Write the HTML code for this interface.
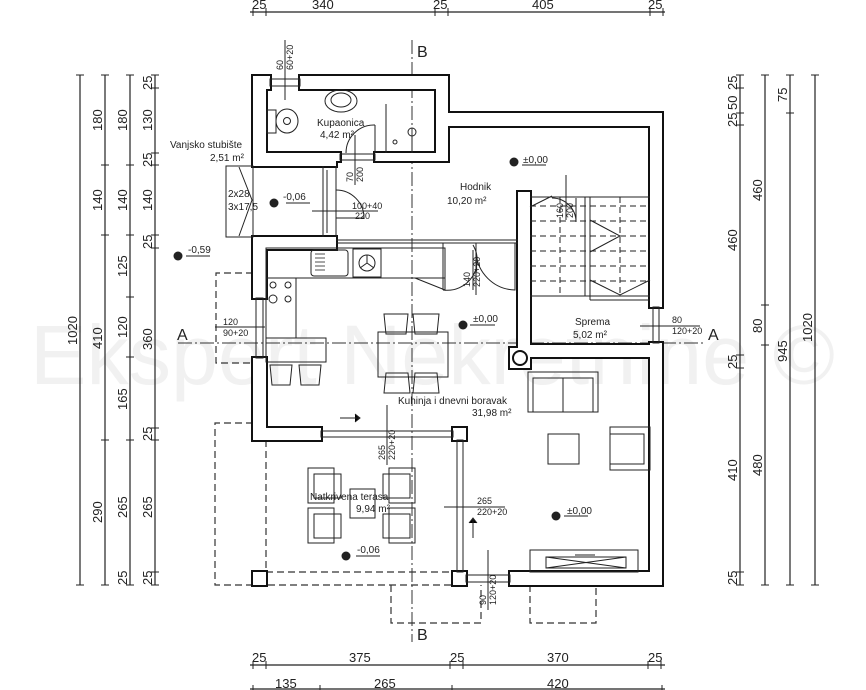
<!DOCTYPE html>
<html><head><meta charset="utf-8"><style>
html,body{margin:0;padding:0;background:#fff;}
svg{display:block;}
text{font-family:"Liberation Sans",sans-serif;fill:#222;}
</style></head><body>
<svg width="866" height="690" viewBox="0 0 866 690" xmlns="http://www.w3.org/2000/svg">
<text x="30" y="384" font-size="84" textLength="805" lengthAdjust="spacingAndGlyphs" style="fill:#f1f1f1">Ekspert Nekretnine ©</text>

<g stroke="#333" stroke-width="1" stroke-dasharray="14,3,2,3" fill="none">
<line x1="412" y1="40" x2="412" y2="642"/>
<line x1="178" y1="343" x2="705" y2="343"/>
</g>
<text x="417" y="57" font-size="16">B</text>
<text x="417" y="640" font-size="16">B</text>
<text x="177" y="340" font-size="16">A</text>
<text x="708" y="340" font-size="16">A</text>

<g stroke="#333" stroke-width="1.2" stroke-dasharray="7,4" fill="none">
<polyline points="253,423 215,423 215,585 453,585"/>
<polyline points="266,440 266,572 453,572"/>
<polyline points="391,585 391,623 481,623 481,585"/>
<polyline points="530,585 530,623 596,623 596,585"/>
<polyline points="253,273 216,273 216,363 253,363"/>
</g>

<g stroke="#111" stroke-width="4" fill="#111">
<rect x="253" y="76" width="17" height="13"/>
<rect x="300" y="76" width="148" height="13"/>
<rect x="253" y="76" width="13" height="90"/>
<rect x="436" y="76" width="12" height="85"/>
<rect x="436" y="113" width="226" height="13"/>
<rect x="650" y="113" width="12" height="194"/>
<rect x="650" y="343" width="12" height="242"/>
<rect x="375" y="153" width="61" height="8"/>
<rect x="336" y="153" width="4" height="8"/>
<rect x="253" y="153" width="83" height="13"/>
<rect x="253" y="237" width="83" height="12"/>
<rect x="253" y="237" width="13" height="61"/>
<rect x="253" y="358" width="13" height="82"/>
<rect x="253" y="428" width="68" height="12"/>
<rect x="453" y="428" width="13" height="12"/>
<rect x="453" y="572" width="13" height="13"/>
<rect x="253" y="572" width="13" height="13"/>
<rect x="510" y="572" width="152" height="13"/>
<rect x="518" y="192" width="12" height="156"/>
<rect x="530" y="345" width="120" height="12"/>
<rect x="510" y="348" width="20" height="20"/>
</g>
<g fill="#fff">
<rect x="253" y="76" width="17" height="13"/>
<rect x="300" y="76" width="148" height="13"/>
<rect x="253" y="76" width="13" height="90"/>
<rect x="436" y="76" width="12" height="85"/>
<rect x="436" y="113" width="226" height="13"/>
<rect x="650" y="113" width="12" height="194"/>
<rect x="650" y="343" width="12" height="242"/>
<rect x="375" y="153" width="61" height="8"/>
<rect x="336" y="153" width="4" height="8"/>
<rect x="253" y="153" width="83" height="13"/>
<rect x="253" y="237" width="83" height="12"/>
<rect x="253" y="237" width="13" height="61"/>
<rect x="253" y="358" width="13" height="82"/>
<rect x="253" y="428" width="68" height="12"/>
<rect x="453" y="428" width="13" height="12"/>
<rect x="453" y="572" width="13" height="13"/>
<rect x="253" y="572" width="13" height="13"/>
<rect x="510" y="572" width="152" height="13"/>
<rect x="518" y="192" width="12" height="156"/>
<rect x="530" y="345" width="120" height="12"/>
<rect x="510" y="348" width="20" height="20"/>
</g>
<circle cx="520" cy="358" r="7" fill="none" stroke="#111" stroke-width="2"/>

<g stroke="#222" stroke-width="1" fill="none">
<rect x="270" y="79" width="30" height="7"/>
<rect x="256" y="298" width="7" height="60"/>
<rect x="321" y="431" width="132" height="6"/>
<rect x="457" y="440" width="6" height="132"/>
<rect x="466" y="575" width="44" height="7"/>
<rect x="653" y="307" width="6" height="36"/>
<rect x="340" y="154" width="35" height="6"/>
<line x1="323" y1="166" x2="323" y2="237"/><line x1="336" y1="166" x2="336" y2="237"/>
<line x1="327" y1="170" x2="327" y2="233"/>
<path d="M336,190 A28,28 0 0 1 364,218 L336,218"/>
<path d="M375,153 L375,125 M346,153 A28,28 0 0 1 375,125"/>
<line x1="336" y1="240" x2="518" y2="240"/>
<line x1="336" y1="243" x2="518" y2="243"/>
<path d="M443,243 L443,290 M443,290 A30,30 0 0 0 473,245"/>
<path d="M476,243 L476,295 M476,251 A40,40 0 0 0 515,290 L515,243"/>
<path d="M415,278 L445,290 L445,278"/>
<path d="M552,198 A24,24 0 0 1 576,222 L576,198"/>
<rect x="266" y="248" width="179" height="30"/>
<rect x="311" y="250" width="37" height="26" rx="3"/>
<g stroke-width="0.8"><line x1="315" y1="254" x2="325" y2="254"/><line x1="315" y1="258" x2="325" y2="258"/><line x1="315" y1="262" x2="325" y2="262"/><line x1="315" y1="266" x2="325" y2="266"/><line x1="315" y1="270" x2="325" y2="270"/></g>
<rect x="353" y="249" width="28" height="28"/>
<circle cx="367" cy="263" r="8"/><path d="M367,263 L367,255 M367,263 L360,268 M367,263 L374,268"/>
<rect x="266" y="278" width="30" height="60"/>
<circle cx="273" cy="285" r="3"/><circle cx="288" cy="285" r="3"/><circle cx="273" cy="299" r="4"/><circle cx="288" cy="299" r="3"/>
<rect x="266" y="338" width="60" height="24"/>
<path d="M270,365 h22 l-2,20 h-18 z"/><path d="M299,365 h22 l-2,20 h-18 z"/>
<rect x="378" y="332" width="70" height="45"/>
<path d="M384,314 h24 l-2,20 h-20 z"/><path d="M413,314 h26 l-2,20 h-22 z"/>
<path d="M386,373 h22 l2,20 h-26 z"/><path d="M415,373 h22 l2,20 h-26 z"/>
<rect x="528" y="372" width="70" height="40"/><rect x="533" y="378" width="30" height="34"/><rect x="563" y="378" width="30" height="34"/>
<rect x="548" y="434" width="31" height="30"/>
<rect x="610" y="427" width="40" height="43"/><rect x="610" y="434" width="34" height="30"/>
<rect x="530" y="550" width="108" height="22"/><rect x="546" y="557" width="80" height="11"/>
<path d="M546,557 L626,568 M546,568 L626,557 M575,555 h20"/>
<rect x="308" y="468" width="26" height="35"/><rect x="314" y="474" width="27" height="24"/>
<rect x="308" y="508" width="26" height="35"/><rect x="314" y="514" width="27" height="24"/>
<rect x="389" y="468" width="26" height="35"/><rect x="383" y="474" width="27" height="24"/>
<rect x="389" y="508" width="26" height="35"/><rect x="383" y="514" width="27" height="24"/>
<rect x="350" y="489" width="25" height="29"/>
<ellipse cx="341" cy="101" rx="16" ry="11"/><ellipse cx="341" cy="100" rx="10" ry="7"/>
<rect x="267" y="110" width="9" height="23"/><ellipse cx="287" cy="121" rx="11" ry="12"/><circle cx="287" cy="121" r="3.5"/>
<line x1="386" y1="104" x2="386" y2="153"/><circle cx="395" cy="142" r="2"/>
<circle cx="412" cy="132" r="4"/><line x1="412" y1="136" x2="412" y2="153"/>
<rect x="226" y="166" width="27" height="71"/>
<path d="M239,167 L252,200 L239,236"/>
<line x1="530" y1="197" x2="650" y2="197"/>
<line x1="530" y1="296" x2="650" y2="296"/>
<line x1="585" y1="197" x2="585" y2="296"/><line x1="590" y1="197" x2="590" y2="300"/>
<line x1="590" y1="300" x2="650" y2="300"/>
<path d="M590,220 L620,236 L590,252"/>
<path d="M590,280 L620,295 L650,280"/>
<path d="M530,207 L552,196"/>
</g>
<g stroke="#222" stroke-width="1" stroke-dasharray="6,4">
<line x1="530" y1="206" x2="650" y2="206"/><line x1="530" y1="221" x2="650" y2="221"/>
<line x1="530" y1="236" x2="650" y2="236"/><line x1="530" y1="251" x2="650" y2="251"/>
<line x1="530" y1="266" x2="650" y2="266"/><line x1="530" y1="281" x2="650" y2="281"/>
<line x1="560" y1="197" x2="560" y2="296"/><line x1="620" y1="197" x2="620" y2="296"/>
</g>

<g stroke="#222" stroke-width="1">
<line x1="285" y1="40" x2="285" y2="100"/>
<line x1="355" y1="135" x2="355" y2="185"/>
<line x1="312" y1="211" x2="378" y2="211"/>
<line x1="473" y1="250" x2="473" y2="290"/>
<line x1="566" y1="175" x2="566" y2="220"/>
<line x1="215" y1="327" x2="265" y2="327"/>
<line x1="640" y1="326" x2="700" y2="326"/>
<line x1="387" y1="405" x2="387" y2="465"/>
<line x1="444" y1="507" x2="505" y2="507"/>
<line x1="488" y1="550" x2="488" y2="610"/>
<path d="M340,418 h20 M355,414 l5,4 -5,4"/>
<path d="M473,538 v-20 M469,523 l4,-5 4,5"/>
<line x1="522" y1="165" x2="546" y2="165"/>
<line x1="470" y1="325" x2="495" y2="325"/>
<line x1="564" y1="516" x2="588" y2="516"/>
<line x1="356" y1="556" x2="380" y2="556"/>
<line x1="286" y1="203" x2="310" y2="203"/>
<line x1="186" y1="256" x2="210" y2="256"/>
</g>
<g fill="#222">
<circle cx="514" cy="162" r="4.5"/><circle cx="463" cy="325" r="4.5"/><circle cx="556" cy="516" r="4.5"/>
<circle cx="346" cy="556" r="4.5"/><circle cx="274" cy="203" r="4.5"/><circle cx="178" cy="256" r="4.5"/>
</g>

<g font-size="10">
<text x="317" y="126">Kupaonica</text><text x="320" y="138">4,42 m²</text>
<text x="170" y="148">Vanjsko stubište</text><text x="210" y="161">2,51 m²</text>
<text x="228" y="197">2x28</text><text x="228" y="210">3x17,5</text>
<text x="283" y="200">-0,06</text>
<text x="352" y="209" font-size="9">100+40</text><text x="355" y="219" font-size="9">220</text>
<text x="460" y="190">Hodnik</text><text x="447" y="204">10,20 m²</text>
<text x="523" y="163">±0,00</text><text x="473" y="322">±0,00</text>
<text x="567" y="514">±0,00</text><text x="357" y="553">-0,06</text>
<text x="188" y="253">-0,59</text>
<text x="223" y="325" font-size="9">120</text><text x="223" y="336" font-size="9">90+20</text>
<text x="575" y="325">Sprema</text><text x="573" y="338">5,02 m²</text>
<text x="672" y="323" font-size="9">80</text><text x="672" y="334" font-size="9">120+20</text>
<text x="398" y="404">Kuhinja i dnevni boravak</text><text x="472" y="416">31,98 m²</text>
<text x="310" y="500">Natkrivena terasa</text><text x="356" y="512">9,94 m²</text>
<text x="477" y="504" font-size="9">265</text><text x="477" y="515" font-size="9">220+20</text>
</g>
<g font-size="9">
<text transform="translate(283,70) rotate(-90)">60</text><text transform="translate(293,70) rotate(-90)">60+20</text>
<text transform="translate(353,182) rotate(-90)">70</text><text transform="translate(363,182) rotate(-90)">200</text>
<text transform="translate(470,287) rotate(-90)">140</text><text transform="translate(480,287) rotate(-90)">220+20</text>
<text transform="translate(563,218) rotate(-90)">160</text><text transform="translate(573,218) rotate(-90)">200</text>
<text transform="translate(385,460) rotate(-90)">265</text><text transform="translate(395,460) rotate(-90)">220+20</text>
<text transform="translate(486,605) rotate(-90)">90</text><text transform="translate(496,605) rotate(-90)">120+20</text>
</g>

<g stroke="#222" stroke-width="1.2">
<line x1="250" y1="12" x2="665" y2="12"/>
<line x1="250" y1="665" x2="665" y2="665"/>
<line x1="250" y1="689" x2="665" y2="689"/>
<line x1="80" y1="75" x2="80" y2="585"/><line x1="105" y1="75" x2="105" y2="585"/>
<line x1="130" y1="75" x2="130" y2="585"/><line x1="155" y1="75" x2="155" y2="585"/>
<line x1="740" y1="75" x2="740" y2="585"/><line x1="765" y1="75" x2="765" y2="585"/>
<line x1="790" y1="75" x2="790" y2="585"/><line x1="815" y1="75" x2="815" y2="585"/>
</g>
<g stroke="#222" stroke-width="1">
<path d="M253,8v8 M266,8v8 M435,8v8 M448,8v8 M650,8v8 M663,8v8"/>
<path d="M253,661v8 M266,661v8 M450,661v8 M463,661v8 M648,661v8 M661,661v8"/>
<path d="M253,685v5 M320,685v5 M452,685v5 M662,685v5"/>
<path d="M76,75h8 M76,585h8"/>
<path d="M101,75h8 M101,165h8 M101,235h8 M101,440h8 M101,585h8"/>
<path d="M126,75h8 M126,165h8 M126,235h8 M126,297h8 M126,357h8 M126,440h8 M126,585h8"/>
<path d="M151,75h8 M151,88h8 M151,153h8 M151,165h8 M151,235h8 M151,248h8 M151,428h8 M151,440h8 M151,572h8 M151,585h8"/>
<path d="M736,75h8 M736,88h8 M736,113h8 M736,125h8 M736,355h8 M736,368h8 M736,572h8 M736,585h8"/>
<path d="M761,75h8 M761,305h8 M761,345h8 M761,585h8"/>
<path d="M786,75h8 M786,113h8 M786,585h8"/>
<path d="M811,75h8 M811,585h8"/>
</g>
<g font-size="13">
<text x="252" y="9">25</text><text x="312" y="9">340</text><text x="433" y="9">25</text><text x="532" y="9">405</text><text x="648" y="9">25</text>
<text x="252" y="662">25</text><text x="349" y="662">375</text><text x="450" y="662">25</text><text x="547" y="662">370</text><text x="648" y="662">25</text>
<text x="275" y="688">135</text><text x="374" y="688">265</text><text x="547" y="688">420</text>
</g>
<g font-size="13">
<text transform="translate(77,345) rotate(-90)">1020</text>
<text transform="translate(102,131) rotate(-90)">180</text><text transform="translate(102,211) rotate(-90)">140</text>
<text transform="translate(102,349) rotate(-90)">410</text><text transform="translate(102,523) rotate(-90)">290</text>
<text transform="translate(127,131) rotate(-90)">180</text><text transform="translate(127,211) rotate(-90)">140</text>
<text transform="translate(127,277) rotate(-90)">125</text><text transform="translate(127,338) rotate(-90)">120</text>
<text transform="translate(127,410) rotate(-90)">165</text><text transform="translate(127,518) rotate(-90)">265</text>
<text transform="translate(127,585) rotate(-90)">25</text>
<text transform="translate(152,90) rotate(-90)">25</text><text transform="translate(152,131) rotate(-90)">130</text>
<text transform="translate(152,167) rotate(-90)">25</text><text transform="translate(152,211) rotate(-90)">140</text>
<text transform="translate(152,249) rotate(-90)">25</text><text transform="translate(152,350) rotate(-90)">360</text>
<text transform="translate(152,441) rotate(-90)">25</text><text transform="translate(152,518) rotate(-90)">265</text>
<text transform="translate(152,585) rotate(-90)">25</text>
<text transform="translate(737,90) rotate(-90)">25</text><text transform="translate(737,110) rotate(-90)">50</text>
<text transform="translate(737,127) rotate(-90)">25</text><text transform="translate(737,251) rotate(-90)">460</text>
<text transform="translate(737,369) rotate(-90)">25</text><text transform="translate(737,481) rotate(-90)">410</text>
<text transform="translate(737,585) rotate(-90)">25</text>
<text transform="translate(762,201) rotate(-90)">460</text><text transform="translate(762,333) rotate(-90)">80</text>
<text transform="translate(762,476) rotate(-90)">480</text>
<text transform="translate(787,102) rotate(-90)">75</text><text transform="translate(787,362) rotate(-90)">945</text>
<text transform="translate(812,342) rotate(-90)">1020</text>
</g>
</svg>
</body></html>
